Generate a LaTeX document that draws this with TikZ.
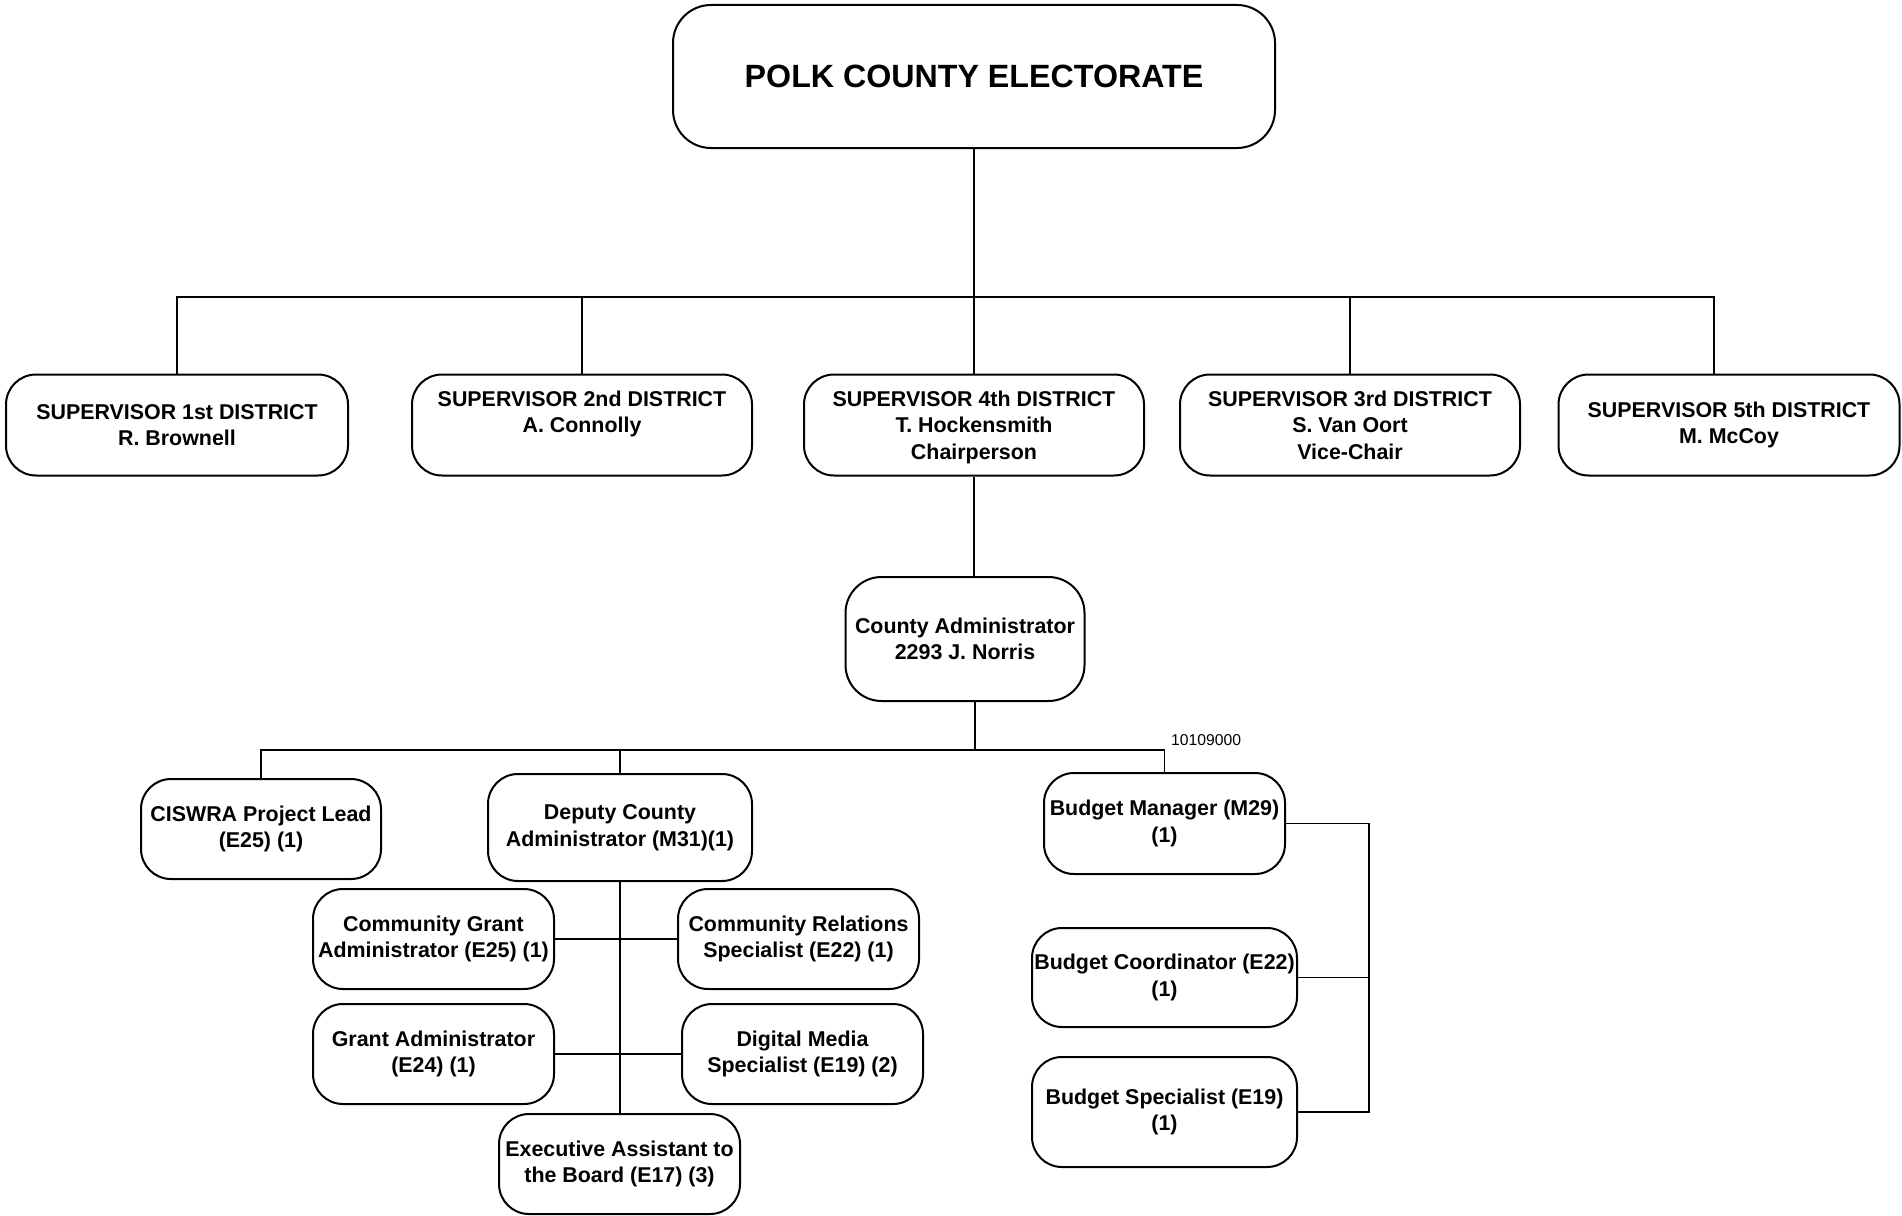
\documentclass[tikz,border=0pt]{standalone}
\usepackage{fontspec}
\setmainfont{Liberation Sans}
\begin{document}
\begin{tikzpicture}[x=1pt,y=-1pt,
  box/.style={draw, line width=2pt, rounded corners=30pt, inner sep=0pt, align=center,
    font=\bfseries\fontsize{21.4}{26.5}\selectfont, minimum height=100pt, minimum width=241pt},
  link/.style={line width=1.6pt}]
\fill[white] (0,0) rectangle (1902,1215);
\useasboundingbox (0,0) rectangle (1902,1215);

% top
\node[box, minimum width=602pt, minimum height=143pt, rounded corners=38pt,
  font=\bfseries\fontsize{32.2}{39}\selectfont] (top) at (974,76.5) {POLK COUNTY ELECTORATE};

% supervisors
\node[box, minimum width=342pt, minimum height=101pt] (s1) at (177,425) {SUPERVISOR 1st DISTRICT\\R. Brownell};
\node[box, minimum width=340pt, minimum height=101pt] (s2) at (582,425) {SUPERVISOR 2nd DISTRICT\\A. Connolly\\\mbox{}};
\node[box, minimum width=340pt, minimum height=101pt] (s4) at (974,425) {\rule{0pt}{23.35pt}SUPERVISOR 4th DISTRICT\\T. Hockensmith\\Chairperson\strut};
\node[box, minimum width=340pt, minimum height=101pt] (s3) at (1350,425) {\rule{0pt}{23.35pt}SUPERVISOR 3rd DISTRICT\\S. Van Oort\\Vice-Chair\strut};
\node[box, minimum width=341pt, minimum height=101pt] (s5) at (1729,425) {SUPERVISOR 5th DISTRICT\\M. McCoy};

% county administrator
\node[box, minimum width=239pt, minimum height=124pt, rounded corners=36pt] (ca) at (965,639) {County Administrator\\2293 J. Norris};

% second level
\node[box, minimum width=240pt] (cis) at (261,829) {CISWRA Project Lead\\(E25) (1)};
\node[box, minimum width=264pt, minimum height=107pt] (dep) at (620,827.5) {Deputy County\\Administrator (M31)(1)};
\node[box] (cg) at (433.5,939) {Community Grant\\Administrator (E25) (1)};
\node[box] (cr) at (798.5,939) {Community Relations\\Specialist (E22) (1)};
\node[box] (ga) at (433.5,1054) {Grant Administrator\\(E24) (1)};
\node[box] (dm) at (802.5,1054) {Digital Media\\Specialist (E19) (2)};
\node[box] (ex) at (619.5,1164) {Executive Assistant to\\the Board (E17) (3)};

\node[box, minimum height=101pt] (bm) at (1164.5,823.5) {Budget Manager (M29)\\(1)};
\node[box, minimum width=265pt, minimum height=99pt] (bc) at (1164.5,977.5) {Budget Coordinator (E22)\\(1)};
\node[box, minimum width=265pt, minimum height=110pt] (bs) at (1164.5,1112) {Budget Specialist (E19)\\(1)};

\node[font=\fontsize{15.7}{18}\selectfont, anchor=west, inner sep=0pt] (code) at (1171,740) {10109000};

% connectors: top level
\coordinate (bus) at (974,297);
\draw[link] (top.south) -- (bus);
\draw[link] (s1.north) |- (bus) -| ([xshift=-15pt]s5.north);
\draw[link] (s2.north) -- (s2.north |- bus);
\draw[link] (s4.north) -- (bus);
\draw[link] (s3.north) -- (s3.north |- bus);

% supervisor 4th -> county admin
\draw[link] (s4.south) -- (s4.south |- ca.north);

% county admin -> staff
\coordinate (bus2) at (975,750);
\draw[link] ([xshift=10pt]ca.south) -- (bus2);
\draw[link] (cis.north) |- (bus2) -| (bm.north);
\draw[link] (dep.north) -- (dep.north |- bus2);

% deputy
\draw[link] (dep.south) -- (dep.south |- ex.north);
\draw[link] (cg.east) -- (cr.west);
\draw[link] (ga.east) -- (dm.west);

% budget
\coordinate (spine) at (1369,823.5);
\draw[link] (bm.east) -- (spine) |- (bs.east);
\draw[link] (bc.east) -- (bc.east -| spine);
\end{tikzpicture}
\end{document}
